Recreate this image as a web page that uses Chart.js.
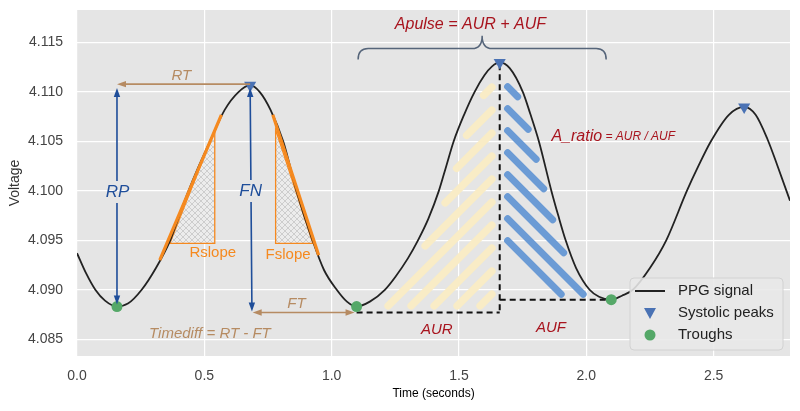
<!DOCTYPE html>
<html><head><meta charset="utf-8">
<script src="https://cdn.jsdelivr.net/npm/chart.js@4.4.1/dist/chart.umd.min.js"></script>
<style>html,body{margin:0;padding:0;background:#fff}</style>
</head><body>
<canvas id="c" width="800" height="411" style="width:800px;height:411px;display:block"></canvas>
<script>
// ---- data ----
const timeS = [0, 0.035, 0.072, 0.11, 0.157, 0.2, 0.254, 0.31, 0.366, 0.4, 0.438, 0.48, 0.522, 0.58, 0.634, 0.68, 0.718, 0.76, 0.81, 0.862, 0.925, 0.97, 1.02, 1.06, 1.098, 1.15, 1.209, 1.25, 1.3, 1.339, 1.38, 1.421, 1.45, 1.479, 1.52, 1.561, 1.6, 1.63, 1.66, 1.7, 1.751, 1.78, 1.814, 1.863, 1.89, 1.919, 1.96, 2.013, 2.05, 2.098, 2.14, 2.183, 2.25, 2.314, 2.395, 2.44, 2.489, 2.56, 2.62, 2.665, 2.712, 2.75, 2.8];
const voltage = [4.0937, 4.0917, 4.0900, 4.0889, 4.0883, 4.0886, 4.0900, 4.0922, 4.0950, 4.0974, 4.1000, 4.1026, 4.1050, 4.1082, 4.1100, 4.1107, 4.1100, 4.1082, 4.1050, 4.1000, 4.0950, 4.0920, 4.0900, 4.0888, 4.0883, 4.0888, 4.0900, 4.0913, 4.0932, 4.0950, 4.0972, 4.1000, 4.1025, 4.1050, 4.1077, 4.1100, 4.1117, 4.1126, 4.1130, 4.1124, 4.1100, 4.1078, 4.1050, 4.1000, 4.0975, 4.0950, 4.0922, 4.0900, 4.0893, 4.0890, 4.0894, 4.0900, 4.0922, 4.0950, 4.1000, 4.1025, 4.1050, 4.1077, 4.1085, 4.1077, 4.1052, 4.1026, 4.0990];
const peakTimes = [0.68, 1.66, 2.62];
const peakVolts = [4.1107, 4.1130, 4.1085];
const troughTimes = [0.157, 1.098, 2.098];
const troughVolts = [4.0883, 4.0883, 4.0890];
const xTicks = [0, 0.5, 1.0, 1.5, 2.0, 2.5];
const yTicks = [4.085, 4.090, 4.095, 4.100, 4.105, 4.110, 4.115];
const seriesLabels = ['PPG signal', 'Systolic peaks', 'Troughs'];

const FONT = '"Liberation Sans", Helvetica, Arial, sans-serif';
const COL = {
  bg: '#e5e5e5', line: '#222222', peak: '#4a72b4', trough: '#55a868',
  tan: '#b68b62', blue: '#1f4e9a', orange: '#f5891f', red: '#a8141e',
  brace: '#56657a', yellow: '#f9ecc6', hatchBlue: '#6b9bd5'
};

function txt(ctx, s, x, y, size, color, italic, align) {
  ctx.save();
  ctx.font = (italic ? 'italic ' : '') + size + 'px ' + FONT;
  ctx.fillStyle = color; ctx.textAlign = align || 'center'; ctx.textBaseline = 'middle';
  ctx.fillText(s, x, y);
  const w = ctx.measureText(s).width;
  ctx.restore();
  return w;
}

function arrow(ctx, x1, y1, x2, y2, color, lw, h1, h2, gap) {
  const dx = x2 - x1, dy = y2 - y1, L = Math.hypot(dx, dy), ux = dx / L, uy = dy / L;
  const hl = 9, hw = 3.2;
  const s0 = h1 ? hl * 0.8 : 0, s1 = L - (h2 ? hl * 0.8 : 0);
  ctx.save();
  ctx.strokeStyle = color; ctx.fillStyle = color; ctx.lineWidth = lw;
  ctx.beginPath();
  if (gap) {
    const d = (gap.x - x1) * ux + (gap.y - y1) * uy;
    ctx.moveTo(x1 + ux * s0, y1 + uy * s0); ctx.lineTo(x1 + ux * (d - gap.h), y1 + uy * (d - gap.h));
    ctx.moveTo(x1 + ux * (d + gap.h), y1 + uy * (d + gap.h)); ctx.lineTo(x1 + ux * s1, y1 + uy * s1);
  } else {
    ctx.moveTo(x1 + ux * s0, y1 + uy * s0); ctx.lineTo(x1 + ux * s1, y1 + uy * s1);
  }
  ctx.stroke();
  const head = (px, py, vx, vy) => {
    ctx.beginPath(); ctx.moveTo(px, py);
    ctx.lineTo(px - vx * hl - vy * hw, py - vy * hl + vx * hw);
    ctx.lineTo(px - vx * hl + vy * hw, py - vy * hl - vx * hw);
    ctx.closePath(); ctx.fill();
  };
  if (h2) head(x2, y2, ux, uy);
  if (h1) head(x1, y1, -ux, -uy);
  ctx.restore();
}

function curvePx(c, t0, t1, dx) {
  const X = c.scales.x, Y = c.scales.y, out = [];
  timeS.forEach((t, i) => { if (t >= t0 - 1e-9 && t <= t1 + 1e-9) out.push({ x: X.getPixelForValue(t) + dx, y: Y.getPixelForValue(voltage[i]) }); });
  return out;
}

// stripes drawn as separate round-capped strokes inside a polygon region
function stripes(ctx, poly, xmin, xmax, dir, color, spacing, width, phase) {
  const path = new Path2D();
  poly.forEach((p, i) => i ? path.lineTo(p.x, p.y) : path.moveTo(p.x, p.y));
  path.closePath();
  const xs = poly.map(p => p.x), ys = poly.map(p => p.y);
  const x0 = Math.min(...xs), x1 = Math.max(...xs), y0 = Math.min(...ys), y1 = Math.max(...ys);
  const inside = (x, y) => x >= xmin && x <= xmax && ctx.isPointInPath(path, x, y);
  ctx.save();
  ctx.strokeStyle = color; ctx.lineWidth = width; ctx.lineCap = 'round';
  const kA = dir > 0 ? x0 + y0 : x0 - y1, kB = dir > 0 ? x1 + y1 : x1 - y0;
  const r = width / 2, step = 0.5;
  for (let k = Math.floor((kA - phase) / spacing) * spacing + phase; k <= kB; k += spacing) {
    let run = null;
    const flush = () => {
      if (!run) return;
      const L = Math.hypot(run.ex - run.sx, run.ey - run.sy);
      if (L > width * 0.6) {
        const ux = (run.ex - run.sx) / L, uy = (run.ey - run.sy) / L, sh = Math.min(r, L / 2 - 0.5);
        ctx.beginPath(); ctx.moveTo(run.sx + ux * sh, run.sy + uy * sh); ctx.lineTo(run.ex - ux * sh, run.ey - uy * sh); ctx.stroke();
      }
      run = null;
    };
    for (let y = y1; y >= y0; y -= step) {
      const x = dir > 0 ? k - y : k + y;
      if (inside(x, y)) { if (!run) run = { sx: x, sy: y, ex: x, ey: y }; else { run.ex = x; run.ey = y; } }
      else flush();
    }
    flush();
  }
  ctx.restore();
}

let crossPattern = null;
function getPattern(ctx) {
  if (crossPattern) return crossPattern;
  const pc = document.createElement('canvas'); pc.width = 6; pc.height = 6;
  const g = pc.getContext('2d');
  g.fillStyle = '#ececec'; g.fillRect(0, 0, 6, 6);
  g.strokeStyle = '#cdcdcd'; g.lineWidth = 1;
  g.beginPath(); g.moveTo(0, 0); g.lineTo(6, 6); g.moveTo(6, 0); g.lineTo(0, 6); g.stroke();
  crossPattern = ctx.createPattern(pc, 'repeat');
  return crossPattern;
}

const bgPlugin = {
  id: 'bgArea',
  beforeDraw(c) {
    const a = c.chartArea, ctx = c.ctx;
    ctx.save(); ctx.fillStyle = COL.bg; ctx.fillRect(a.left, a.top, a.right - a.left, a.bottom - a.top); ctx.restore();
  }
};

const annotPlugin = {
  id: 'annot',
  beforeDatasetsDraw(c) {
    const ctx = c.ctx, a = c.chartArea;
    const X = t => c.scales.x.getPixelForValue(t), Y = v => c.scales.y.getPixelForValue(v);
    ctx.save();
    // AUR hatch (yellow, '/')
    {
      const xr = X(1.66) - 5, yb = Y(4.0877) - 4;
      const poly = curvePx(c, 1.098, 1.66, 9);
      poly.push({ x: xr, y: Y(4.1130) }, { x: xr, y: yb }, { x: X(1.098) + 9, y: yb });
      stripes(ctx, poly, X(1.098), xr, 1, COL.yellow, 23, 7.5, 4);
    }
    // AUF hatch (blue, '\')
    {
      const xl = X(1.66) + 5, yb = Y(4.0890) - 3;
      const poly = [{ x: xl, y: Y(4.1135) }];
      curvePx(c, 1.66, 2.098, -5).forEach(p => poly.push(p));
      poly.push({ x: X(2.098) - 5, y: yb }, { x: xl + 57, y: yb }, { x: xl, y: yb - 57 });
      stripes(ctx, poly, xl, X(2.098), -1, COL.hatchBlue, 22, 7, 3);
    }
    // slope triangles
    const tri = (pts) => {
      ctx.beginPath(); pts.forEach((p, i) => i ? ctx.lineTo(X(p[0]), Y(p[1])) : ctx.moveTo(X(p[0]), Y(p[1]))); ctx.closePath();
      ctx.fillStyle = getPattern(ctx); ctx.fill();
      ctx.strokeStyle = COL.orange; ctx.lineWidth = 1.3; ctx.stroke();
    };
    tri([[0.365, 4.0947], [0.541, 4.0947], [0.541, 4.1062]]);
    tri([[0.780, 4.1062], [0.780, 4.0947], [0.926, 4.0947]]);
    // dashed guides
    ctx.strokeStyle = '#111'; ctx.lineWidth = 2; ctx.setLineDash([6, 4]);
    ctx.beginPath();
    ctx.moveTo(X(1.098), Y(4.0877)); ctx.lineTo(X(1.66), Y(4.0877));
    ctx.moveTo(X(1.66), Y(4.1128)); ctx.lineTo(X(1.66), Y(4.0877));
    ctx.moveTo(X(1.66), Y(4.0890)); ctx.lineTo(X(2.098), Y(4.0890));
    ctx.stroke();
    ctx.setLineDash([]);
    ctx.restore();
  },
  afterDatasetsDraw(c) {
    const ctx = c.ctx;
    const X = t => c.scales.x.getPixelForValue(t), Y = v => c.scales.y.getPixelForValue(v);
    ctx.save();
    // slope tangent lines
    ctx.strokeStyle = COL.orange; ctx.lineWidth = 3.2; ctx.lineCap = 'butt';
    ctx.beginPath();
    ctx.moveTo(X(0.325), Y(4.0930)); ctx.lineTo(X(0.567), Y(4.1077));
    ctx.moveTo(X(0.769), Y(4.1077)); ctx.lineTo(X(0.949), Y(4.0935));
    ctx.stroke();
    txt(ctx, 'Rslope', X(0.533), Y(4.0937), 15, COL.orange, false);
    txt(ctx, 'Fslope', X(0.829), Y(4.0935), 15, COL.orange, false);
    // RT
    arrow(ctx, X(0.68), Y(4.1108), X(0.157), Y(4.1108), COL.tan, 1.6, false, true);
    txt(ctx, 'RT', X(0.41), Y(4.1116), 15, COL.tan, true);
    // RP
    arrow(ctx, X(0.157), Y(4.0885), X(0.157), Y(4.1104), COL.blue, 1.6, true, true, { x: X(0.157), y: Y(4.0999), h: 11 });
    txt(ctx, 'RP', X(0.159), Y(4.0999), 17, COL.blue, true);
    // FN
    arrow(ctx, X(0.680), Y(4.1104), X(0.687), Y(4.0878), COL.blue, 1.6, true, true, { x: X(0.683), y: Y(4.1000), h: 11 });
    txt(ctx, 'FN', X(0.682), Y(4.1000), 17, COL.blue, true);
    // FT
    arrow(ctx, X(0.690), Y(4.0877), X(1.090), Y(4.0877), COL.tan, 1.6, true, true);
    txt(ctx, 'FT', X(0.862), Y(4.0886), 15, COL.tan, true);
    txt(ctx, 'Timediff = RT - FT', X(0.522), Y(4.0855), 15, COL.tan, true);
    // brace
    const xl = X(1.104), xr = X(2.078), xm = (xl + xr) / 2;
    const yE = Y(4.1133), yL = Y(4.1144), yT = Y(4.1157), r = 10;
    ctx.strokeStyle = COL.brace; ctx.lineWidth = 1.5;
    ctx.beginPath();
    ctx.moveTo(xl, yE); ctx.quadraticCurveTo(xl, yL, xl + r, yL);
    ctx.lineTo(xm - r, yL); ctx.quadraticCurveTo(xm, yL, xm, yT);
    ctx.quadraticCurveTo(xm, yL, xm + r, yL);
    ctx.lineTo(xr - r, yL); ctx.quadraticCurveTo(xr, yL, xr, yE);
    ctx.stroke();
    txt(ctx, 'Apulse = AUR + AUF', X(1.545), Y(4.1168), 16, COL.red, true);
    // A_ratio
    const w = txt(ctx, 'A_ratio', X(1.863), Y(4.1055), 16, COL.red, true, 'left');
    txt(ctx, ' = AUR / AUF', X(1.863) + w, Y(4.1055), 12, COL.red, true, 'left');
    txt(ctx, 'AUR', X(1.413), Y(4.0859), 15, COL.red, true);
    txt(ctx, 'AUF', X(1.861), Y(4.0861), 15, COL.red, true);
    ctx.restore();
  },
  afterDraw(c) {
    const ctx = c.ctx, a = c.chartArea;
    const bw = 153, bh = 72, bx = a.right - 7 - bw, by = a.bottom - 6 - bh, rr = 4;
    ctx.save();
    ctx.beginPath();
    ctx.moveTo(bx + rr, by); ctx.lineTo(bx + bw - rr, by); ctx.quadraticCurveTo(bx + bw, by, bx + bw, by + rr);
    ctx.lineTo(bx + bw, by + bh - rr); ctx.quadraticCurveTo(bx + bw, by + bh, bx + bw - rr, by + bh);
    ctx.lineTo(bx + rr, by + bh); ctx.quadraticCurveTo(bx, by + bh, bx, by + bh - rr);
    ctx.lineTo(bx, by + rr); ctx.quadraticCurveTo(bx, by, bx + rr, by); ctx.closePath();
    ctx.fillStyle = 'rgba(232,232,232,0.88)'; ctx.fill();
    ctx.strokeStyle = '#d2d2d2'; ctx.lineWidth = 1; ctx.stroke();
    const sx = bx + 20, tx = bx + 48, rows = [by + 13, by + 35, by + 57];
    ctx.strokeStyle = COL.line; ctx.lineWidth = 2;
    ctx.beginPath(); ctx.moveTo(bx + 5, rows[0]); ctx.lineTo(bx + 35, rows[0]); ctx.stroke();
    ctx.fillStyle = COL.peak;
    ctx.beginPath(); ctx.moveTo(sx - 6, rows[1] - 5); ctx.lineTo(sx + 6, rows[1] - 5); ctx.lineTo(sx, rows[1] + 6); ctx.closePath(); ctx.fill();
    ctx.fillStyle = COL.trough;
    ctx.beginPath(); ctx.arc(sx, rows[2], 5.5, 0, Math.PI * 2); ctx.fill();
    seriesLabels.forEach((s, i) => txt(ctx, s, tx, rows[i], 15, '#222', false, 'left'));
    ctx.restore();
  }
};

new Chart(document.getElementById('c'), {
  type: 'line',
  data: {
    datasets: [
      { label: seriesLabels[1], type: 'scatter', data: peakTimes.map((t, i) => ({ x: t, y: peakVolts[i] })),
        pointStyle: 'triangle', rotation: 180, radius: 7, backgroundColor: COL.peak, borderColor: COL.peak, borderWidth: 0, order: 1 },
      { label: seriesLabels[2], type: 'scatter', data: troughTimes.map((t, i) => ({ x: t, y: troughVolts[i] })),
        pointStyle: 'circle', radius: 5.5, backgroundColor: COL.trough, borderColor: COL.trough, borderWidth: 0, order: 2 },
      { label: seriesLabels[0], data: timeS.map((t, i) => ({ x: t, y: voltage[i] })),
        borderColor: COL.line, borderWidth: 1.8, pointRadius: 0, cubicInterpolationMode: 'monotone', fill: false, order: 3 }
    ]
  },
  options: {
    responsive: false, animation: false, devicePixelRatio: 1,
    layout: { padding: { top: 10, right: 10, left: 0, bottom: 0 } },
    plugins: { legend: { display: false }, tooltip: { enabled: false } },
    scales: {
      x: {
        type: 'linear', min: 0, max: 2.8,
        afterBuildTicks: s => { s.ticks = xTicks.map(v => ({ value: v })); },
        afterFit: s => { s.height = 55; s.paddingLeft = 0; s.paddingRight = 0; },
        grid: { color: '#ffffff', lineWidth: 1.2, drawTicks: false },
        border: { display: false },
        ticks: { padding: 12, color: '#444', font: { family: FONT, size: 14 }, callback: v => Number(v).toFixed(1), maxRotation: 0 },
        title: { display: true, text: 'Time (seconds)', color: '#000', font: { family: FONT, size: 12 }, padding: { top: 0, bottom: 10 } }
      },
      y: {
        min: 4.0833, max: 4.1183,
        afterBuildTicks: s => { s.ticks = yTicks.map(v => ({ value: v })); },
        afterFit: s => { s.width = 77; s.paddingTop = 0; s.paddingBottom = 0; },
        grid: { color: '#ffffff', lineWidth: 1.2, drawTicks: false },
        border: { display: false },
        ticks: { padding: 14, color: '#444', font: { family: FONT, size: 14 }, callback: v => Number(v).toFixed(3) },
        title: { display: true, text: 'Voltage', color: '#333', font: { family: FONT, size: 14 }, padding: { top: 7, bottom: 0 } }
      }
    }
  },
  plugins: [bgPlugin, annotPlugin]
});
</script>
</body></html>
